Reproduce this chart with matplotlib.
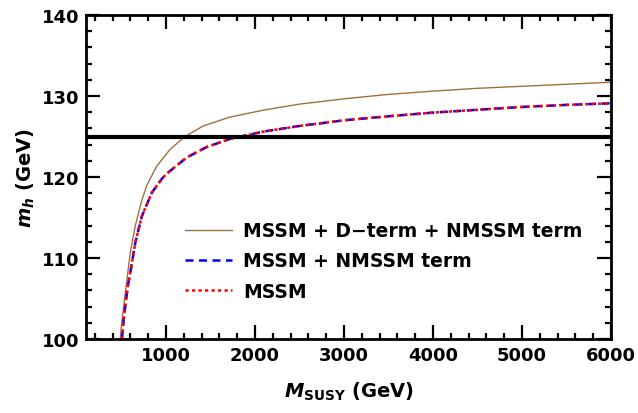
import matplotlib
matplotlib.use("Agg")
import matplotlib.pyplot as plt
from matplotlib.ticker import MultipleLocator

plt.rcParams['font.family'] = ['DejaVu Sans']
plt.rcParams['font.weight'] = 'bold'
plt.rcParams['mathtext.fontset'] = 'custom'
plt.rcParams['mathtext.rm'] = 'DejaVu Sans:bold'
plt.rcParams['mathtext.it'] = 'DejaVu Sans:italic:bold'
plt.rcParams['mathtext.bf'] = 'DejaVu Sans:bold'

# Data (M_SUSY in GeV, m_h in GeV)
x_dterm = [485, 500, 524, 561, 598, 654, 729, 785, 893, 1044, 1212, 1418, 1718,
           2092, 2500, 3000, 3500, 4000, 4500, 5000, 5500, 6000]
y_dterm = [100, 101.8, 104.1, 107.4, 110.7, 114.0, 117.2, 119.0, 121.3, 123.4,
           125.0, 126.3, 127.4, 128.25, 129.0, 129.65, 130.2, 130.6, 130.95,
           131.2, 131.45, 131.7]

x_nmssm = [504, 522, 542, 568, 598, 654, 729, 842, 954, 1006, 1231, 1456, 1718,
           2092, 2500, 3000, 3500, 4000, 4500, 5000, 5500, 6000]
y_nmssm = [100, 102.2, 104.1, 106.4, 108.2, 111.9, 115.2, 118.1, 119.8, 120.4,
           122.4, 123.7, 124.7, 125.6, 126.3, 127.0, 127.5, 127.95, 128.3,
           128.65, 128.9, 129.1]

x_mssm = [504, 522, 542, 568, 598, 654, 729, 842, 954, 1006, 1231, 1456, 1718,
          2092, 2500, 3000, 3500, 4000, 4500, 5000, 5500, 6000]
y_mssm = [100, 102.2, 104.1, 106.4, 108.2, 111.9, 115.2, 118.1, 119.8, 120.4,
          122.4, 123.7, 124.7, 125.6, 126.3, 127.0, 127.5, 127.95, 128.3,
          128.65, 128.9, 129.1]

higgs_mass = 125
labels = ['MSSM + D\u2212term + NMSSM term', 'MSSM + NMSSM term', 'MSSM']

fig = plt.figure(figsize=(6.38, 4.14), dpi=100)
ax = fig.add_axes([86/638, 74/414, 525/638, 324/414])

ax.plot(x_dterm, y_dterm, color='#a0703c', lw=1.0, label=labels[0])
ax.plot(x_nmssm, y_nmssm, color='#0000ff', lw=1.8, ls=(0, (3.2, 2.2)), label=labels[1])
ax.plot(x_mssm, y_mssm, color='#ff0000', lw=1.8, ls=(0, (1.3, 1.3)), label=labels[2])
ax.axhline(higgs_mass, color='black', lw=3.0)

ax.set_xlim(100, 6000)
ax.set_ylim(100, 140)
ax.xaxis.set_major_locator(MultipleLocator(1000))
ax.xaxis.set_minor_locator(MultipleLocator(200))
ax.yaxis.set_major_locator(MultipleLocator(10))
ax.yaxis.set_minor_locator(MultipleLocator(2))
ax.tick_params(which='both', direction='in', top=True, right=True, width=1.6,
               labelsize=13, colors='black')
ax.tick_params(which='major', length=10, pad=5)
ax.tick_params(which='minor', length=4)
for s in ax.spines.values():
    s.set_linewidth(2.0)
for lab in ax.get_xticklabels() + ax.get_yticklabels():
    lab.set_fontweight('bold')

ax.set_xlabel(r'$M_{\mathrm{SUSY}}$ (GeV)', fontsize=14, fontweight='bold', labelpad=11)
ax.set_ylabel(r'$m_h$ (GeV)', fontsize=14, fontweight='bold', labelpad=3)

leg = ax.legend(loc='upper left', bbox_to_anchor=(0.189, 0.364), frameon=False,
                fontsize=13.5, handlelength=2.5, handletextpad=0.6,
                labelspacing=0.6, borderpad=0, borderaxespad=0)
for t in leg.get_texts():
    t.set_fontweight('bold')

fig.savefig('out.png', dpi=100)
